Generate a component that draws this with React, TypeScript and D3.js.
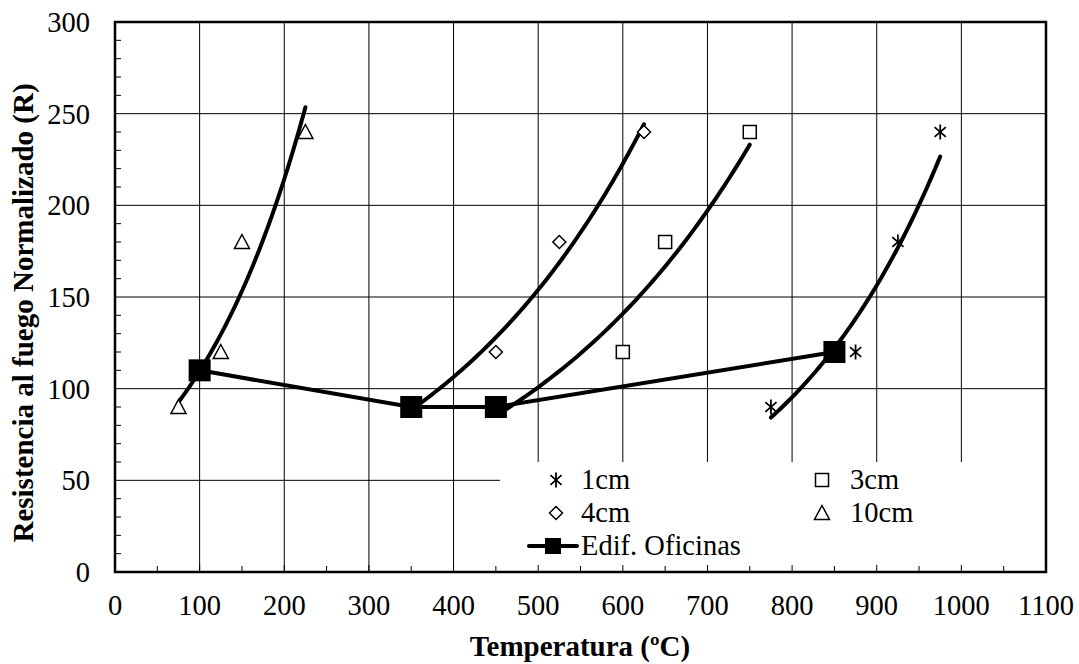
import React from "react";
import * as d3 from "d3";

type Pt = { x: number; y: number };

const xTicks = [0, 100, 200, 300, 400, 500, 600, 700, 800, 900, 1000, 1100];
const yTicks = [0, 50, 100, 150, 200, 250, 300];

const s1cm: Pt[] = [
  { x: 775, y: 90 },
  { x: 875, y: 120 },
  { x: 925, y: 180 },
  { x: 975, y: 240 },
];
const s3cm: Pt[] = [
  { x: 450, y: 90 },
  { x: 600, y: 120 },
  { x: 650, y: 180 },
  { x: 750, y: 240 },
];
const s4cm: Pt[] = [
  { x: 350, y: 90 },
  { x: 450, y: 120 },
  { x: 525, y: 180 },
  { x: 625, y: 240 },
];
const s10cm: Pt[] = [
  { x: 75, y: 90 },
  { x: 125, y: 120 },
  { x: 150, y: 180 },
  { x: 225, y: 240 },
];
const edif: Pt[] = [
  { x: 100, y: 110 },
  { x: 350, y: 90 },
  { x: 450, y: 90 },
  { x: 850, y: 120 },
];

const W = 1079;
const H = 664;
const L = 115;
const T = 22;
const R = 1046;
const B = 572;
const FONT = "Liberation Serif";
const TICK_FS = 28.5;
const TITLE_FS = 29;

const x = d3.scaleLinear().domain([0, 1100]).range([L, R]);
const y = d3.scaleLinear().domain([0, 300]).range([B, T]);

function expFit(pts: Pt[]) {
  const mx = d3.mean(pts, (p) => p.x)!;
  const ml = d3.mean(pts, (p) => Math.log(p.y))!;
  let sxx = 0,
    sxy = 0;
  pts.forEach((p) => {
    sxx += (p.x - mx) ** 2;
    sxy += (p.x - mx) * (Math.log(p.y) - ml);
  });
  const b = sxy / sxx;
  const a = ml - b * mx;
  const [x0, x1] = d3.extent(pts, (p) => p.x) as [number, number];
  const out: Pt[] = [];
  const N = 60;
  for (let i = 0; i <= N; i++) {
    const xv = x0 + ((x1 - x0) * i) / N;
    out.push({ x: xv, y: Math.exp(a + b * xv) });
  }
  return out;
}

const line = d3
  .line<Pt>()
  .x((d) => x(d.x))
  .y((d) => y(d.y));

function Marker({ kind, cx, cy }: { kind: string; cx: number; cy: number }) {
  const sw = 1.5;
  if (kind === "star") {
    const r = 7.5;
    return (
      <g stroke="#000" strokeWidth={1.8}>
        <line x1={cx - r * 0.75} y1={cy - r * 0.65} x2={cx + r * 0.75} y2={cy + r * 0.65} />
        <line x1={cx - r * 0.75} y1={cy + r * 0.65} x2={cx + r * 0.75} y2={cy - r * 0.65} />
        <line x1={cx} y1={cy - r} x2={cx} y2={cy + r} />
      </g>
    );
  }
  if (kind === "square") {
    const r = 6.5;
    return <rect x={cx - r} y={cy - r} width={2 * r} height={2 * r} fill="#fff" stroke="#000" strokeWidth={sw} />;
  }
  if (kind === "diamond") {
    const r = 6.5;
    return (
      <path
        d={`M${cx},${cy - r}L${cx + r},${cy}L${cx},${cy + r}L${cx - r},${cy}Z`}
        fill="#fff"
        stroke="#000"
        strokeWidth={sw}
      />
    );
  }
  if (kind === "tri") {
    const r = 7.5;
    return (
      <path
        d={`M${cx},${cy - r}L${cx + r},${cy + r * 0.85}L${cx - r},${cy + r * 0.85}Z`}
        fill="#fff"
        stroke="#000"
        strokeWidth={sw}
      />
    );
  }
  return null;
}

const seriesList = [
  { name: "1cm", data: s1cm, kind: "star" },
  { name: "3cm", data: s3cm, kind: "square" },
  { name: "4cm", data: s4cm, kind: "diamond" },
  { name: "10cm", data: s10cm, kind: "tri" },
];

const txt = { fontFamily: FONT, fill: "#000" } as React.CSSProperties;

export default function App() {
  const minorX = d3.range(50, 1100, 100);
  const minorY = d3.range(0, 300, 10).filter((v) => v % 50 !== 0);
  const legX = 500;
  const legY = 462;
  return (
    <svg width={W} height={H} style={{ position: "absolute", left: 0, top: 0, background: "#fff" }}>
      <rect x={0} y={0} width={W} height={H} fill="#fff" />
      {xTicks.slice(1, -1).map((v) => (
        <line key={"gx" + v} x1={x(v)} x2={x(v)} y1={T} y2={B} stroke="#000" strokeWidth={1} />
      ))}
      {yTicks.slice(1, -1).map((v) => (
        <line key={"gy" + v} x1={L} x2={R} y1={y(v)} y2={y(v)} stroke="#000" strokeWidth={1} />
      ))}
      <rect x={legX} y={legY} width={R - legX} height={B - legY} fill="#fff" />
      {minorX.map((v) => (
        <line key={"mx" + v} x1={x(v)} x2={x(v)} y1={B} y2={B - 6} stroke="#000" strokeWidth={1} />
      ))}
      {xTicks.slice(1, -1).map((v) => (
        <line key={"tx" + v} x1={x(v)} x2={x(v)} y1={B} y2={B - 7} stroke="#000" strokeWidth={1} />
      ))}
      {minorY.map((v) => (
        <line key={"my" + v} x1={L} x2={L + 6} y1={y(v)} y2={y(v)} stroke="#000" strokeWidth={1} />
      ))}
      {seriesList.map((s) => (
        <path key={"t" + s.name} d={line(expFit(s.data)) || ""} fill="none" stroke="#000" strokeWidth={4} strokeLinecap="round" />
      ))}
      {seriesList.map((s) =>
        s.data.map((p, i) => <Marker key={s.name + i} kind={s.kind} cx={x(p.x)} cy={y(p.y)} />)
      )}
      <path d={line(edif) || ""} fill="none" stroke="#000" strokeWidth={4} />
      {edif.map((p, i) => (
        <rect key={"e" + i} x={x(p.x) - 11} y={y(p.y) - 11} width={22} height={22} fill="#000" />
      ))}
      <rect x={L} y={T} width={R - L} height={B - T} fill="none" stroke="#000" strokeWidth={2.5} />
      {xTicks.map((v) => (
        <text key={"lx" + v} x={x(v)} y={615} textAnchor="middle" style={{ ...txt, fontSize: TICK_FS }}>
          {v}
        </text>
      ))}
      {yTicks.map((v) => (
        <text key={"ly" + v} x={90} y={y(v) + 10} textAnchor="end" style={{ ...txt, fontSize: TICK_FS }}>
          {v}
        </text>
      ))}
      <text x={580} y={656} textAnchor="middle" style={{ ...txt, fontSize: TITLE_FS, fontWeight: "bold" }}>
        Temperatura (ºC)
      </text>
      <text
        transform={`translate(33,313) rotate(-90)`}
        textAnchor="middle"
        style={{ ...txt, fontSize: TITLE_FS, fontWeight: "bold" }}
      >
        Resistencia al fuego Normalizado (R)
      </text>
      <Marker kind="star" cx={556} cy={480} />
      <text x={581} y={488.5} style={{ ...txt, fontSize: TICK_FS }}>1cm</text>
      <Marker kind="square" cx={822} cy={480} />
      <text x={850} y={488.5} style={{ ...txt, fontSize: TICK_FS }}>3cm</text>
      <Marker kind="diamond" cx={556} cy={513} />
      <text x={581} y={521.5} style={{ ...txt, fontSize: TICK_FS }}>4cm</text>
      <Marker kind="tri" cx={822} cy={513} />
      <text x={850} y={521.5} style={{ ...txt, fontSize: TICK_FS }}>10cm</text>
      <line x1={529} x2={577} y1={546} y2={546} stroke="#000" strokeWidth={4} strokeLinecap="round" />
      <rect x={545} y={538} width={16} height={16} fill="#000" />
      <text x={581} y={555} style={{ ...txt, fontSize: TICK_FS }}>Edif. Oficinas</text>
    </svg>
  );
}
